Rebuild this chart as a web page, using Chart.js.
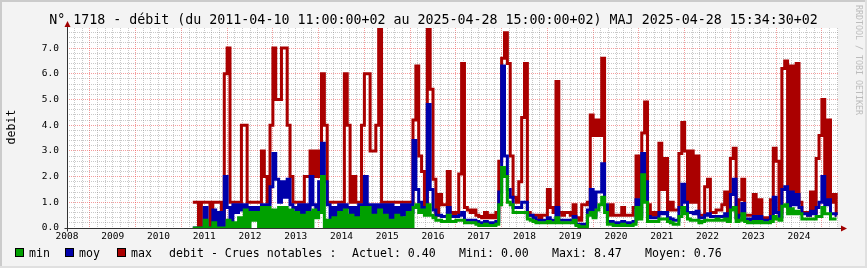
<!DOCTYPE html>
<html>
<head>
<meta charset="utf-8">
<script src="https://cdn.jsdelivr.net/npm/chart.js@4.4.1/dist/chart.umd.min.js"></script>
<style>
  html, body { margin: 0; padding: 0; }
  body { width: 867px; height: 268px; overflow: hidden; background: #f3f3f3; font-family: 'DejaVu Sans Mono', monospace; color: #000; }
  #wrap { position: relative; width: 867px; height: 268px; }
  #wrap canvas { position: absolute; left: 0; top: 0; }
  .txt { position: absolute; white-space: pre; }
  #title { left: 0; width: 867px; text-align: center; top: 12px; font-size: 13.3px; line-height: 16px; }
  #ylabel { left: 10.5px; top: 127px; font-size: 11.6px; line-height: 14px; transform: translate(-50%, -50%) rotate(-90deg); }
  #stamp { left: 858.5px; top: 60px; font-size: 8.3px; line-height: 10px; color: #bcbcbc; transform: translate(-50%, -50%) rotate(90deg); }
  .leg { top: 246px; font-size: 11.6px; line-height: 14px; }
  .box { position: absolute; top: 248px; width: 7px; height: 7px; border: 1px solid #000; }
  .edge { position: absolute; background: #cbcbcb; }
</style>
</head>
<body>
<div id="wrap">
  <canvas id="debitChart" width="867" height="268"></canvas>
  <div class="txt" id="title">N° 1718 - débit (du 2011-04-10 11:00:00+02 au 2025-04-28 15:00:00+02) MAJ 2025-04-28 15:34:30+02</div>
  <div class="txt" id="ylabel">debit</div>
  <div class="txt" id="stamp">RRDTOOL / TOBI OETIKER</div>

  <div class="box" style="left:15px; background:#00a000"></div>
  <div class="txt leg" style="left:29px">min</div>
  <div class="box" style="left:65px; background:#0000aa"></div>
  <div class="txt leg" style="left:79px">moy</div>
  <div class="box" style="left:117px; background:#aa0000"></div>
  <div class="txt leg" style="left:131px">max</div>
  <div class="txt leg" style="left:169px">debit - Crues notables :</div>
  <div class="txt leg" style="left:352px">Actuel: 0.40</div>
  <div class="txt leg" style="left:459px">Mini: 0.00</div>
  <div class="txt leg" style="left:552px">Maxi: 8.47</div>
  <div class="txt leg" style="left:645px">Moyen: 0.76</div>

  <div class="edge" style="left:0; top:0; width:867px; height:2px"></div>
  <div class="edge" style="left:0; top:0; width:2px; height:268px"></div>
  <div class="edge" style="left:865px; top:0; width:2px; height:268px; background:#e0e0e0"></div>
  <div class="edge" style="left:0; top:266px; width:867px; height:2px; background:#e0e0e0"></div>
</div>

<script>
// Echantillons : un point tous les 1/16 d'an depuis le 2011-04-10
const sampleStart = 2011.25;
const sampleStep = 1 / 16;
const periodEnd = 2025.32;

const maxValues = [
    1.0, 1.0, 0, 1.0, 1.0, 1.0, 0, 1.0, 1.0, 1.0,
    0, 6.0, 7.0, 1.0, 1.0, 1.0, 1.0, 4.0, 4.0, 1.0,
    1.0, 1.0, 1.0, 1.0, 3.0, 2.0, 1.0, 4.0, 7.0, 5.0,
    5.0, 7.0, 7.0, 4.0, 2.0, 1.0, 1.0, 1.0, 1.0, 2.0,
    2.0, 3.0, 2.0, 3.0, 2.0, 6.0, 4.0, 1.0, 1.0, 1.0,
    1.0, 1.0, 1.0, 6.0, 4.0, 1.0, 2.0, 1.0, 1.0, 4.0,
    6.0, 6.0, 3.0, 3.0, 4.0, 7.8, 1.0, 1.0, 1.0, 1.0,
    1.0, 1.0, 1.0, 1.0, 1.0, 1.0, 1.0, 4.2, 6.3, 2.8,
    2.2, 0.9, 7.8, 5.4, 1.9, 0.5, 1.3, 0.9, 0.9, 2.2,
    0.6, 0.5, 0.6, 2.1, 6.4, 0.8, 0.7, 0.6, 0.7, 0.5,
    0.45, 0.4, 0.6, 0.4, 0.5, 0.4, 0.6, 2.6, 6.6, 7.6,
    6.4, 2.8, 1.2, 1.0, 1.8, 4.3, 6.4, 0.6, 0.5, 0.5,
    0.5, 0.4, 0.5, 0.5, 1.5, 0.8, 0.6, 5.7, 0.6, 0.5,
    0.6, 0.6, 0.5, 0.9, 0.4, 0.3, 0.9, 0.9, 1.0, 4.4,
    3.6, 4.2, 3.6, 6.6, 0.8, 0.5, 0.9, 0.5, 0.5, 0.5,
    0.8, 0.5, 0.5, 0.5, 0.8, 2.8, 1.2, 3.7, 4.9, 0.9,
    0.5, 0.6, 0.5, 3.3, 1.5, 2.7, 0.7, 1.0, 0.7, 0.7,
    2.9, 4.1, 3.0, 1.0, 3.0, 1.0, 2.8, 0.5, 0.5, 1.6,
    1.9, 0.6, 0.6, 0.7, 0.7, 0.9, 1.4, 0.6, 2.7, 3.1,
    0.4, 1.1, 1.9, 0.5, 0.5, 0.5, 1.3, 0.5, 1.1, 0.4,
    0.4, 0.4, 1.1, 3.1, 2.6, 0.6, 6.2, 6.5, 1.5, 6.3,
    1.0, 6.4, 1.0, 0.6, 0.6, 0.5, 1.4, 0.6, 2.7, 3.6,
    5.0, 1.0, 4.2, 1.0, 1.3, 0.5
];

const moyValues = [
    0, 0, 0, 0, 0.8, 0, 0, 0.7, 0, 0.6,
    0, 2.0, 0.8, 0, 0.9, 0.6, 0.9, 0.7, 0.9, 0.6,
    0.8, 0.5, 0.8, 0.6, 0.9, 0.5, 0.9, 1.6, 2.9, 1.9,
    1.0, 1.8, 1.2, 1.9, 0.9, 0.8, 0.4, 0.9, 0.3, 0.9,
    0.5, 2.0, 0.9, 0.6, 1.8, 3.3, 1.8, 0.9, 0, 0.8,
    0, 0.9, 0.4, 0.9, 0.8, 0, 0.8, 0.4, 0.9, 0.6,
    2.0, 0.9, 0.5, 0.9, 0.5, 0.9, 0.6, 0.9, 0.4, 0.9,
    0, 0.8, 0.3, 0.9, 0.5, 0.9, 0.6, 3.4, 1.5, 1.0,
    0.8, 0.7, 4.8, 1.5, 0.7, 0.5, 0.5, 0.45, 0.45, 0.8,
    0.45, 0.45, 0.45, 0.5, 0.6, 0.3, 0.3, 0.3, 0.3, 0.25,
    0.2, 0.2, 0.25, 0.2, 0.2, 0.2, 0.25, 1.4, 6.3, 2.8,
    1.5, 1.2, 0.8, 0.8, 0.8, 1.0, 1.0, 0.5, 0.5, 0.4,
    0.3, 0.3, 0.3, 0.3, 0.4, 0.3, 0.3, 0.8, 0.3, 0.3,
    0.3, 0.3, 0.3, 0.45, 0.15, 0.1, 0.15, 0.1, 0.7, 1.5,
    0.5, 1.4, 1.4, 2.5, 0.9, 0.25, 0.25, 0.2, 0.2, 0.2,
    0.25, 0.2, 0.2, 0.2, 0.25, 1.1, 0.5, 2.9, 1.8, 0.45,
    0.4, 0.4, 0.4, 0.6, 0.55, 0.6, 0.4, 0.35, 0.3, 0.3,
    0.8, 1.7, 1.0, 0.6, 0.6, 0.55, 0.65, 0.4, 0.4, 0.5,
    0.55, 0.45, 0.45, 0.45, 0.45, 0.45, 0.55, 0.4, 1.3, 1.9,
    0.4, 0.5, 0.95, 0.35, 0.35, 0.3, 0.45, 0.35, 0.45, 0.3,
    0.3, 0.3, 0.45, 1.2, 0.6, 0.45, 1.5, 1.6, 0.8, 1.4,
    0.9, 1.3, 0.8, 0.55, 0.55, 0.5, 0.65, 0.55, 0.8, 1.0,
    2.0, 0.9, 1.1, 0.55, 0.55, 0.5
];

const minValues = [
    0, 0, 0, 0, 0.3, 0, 0, 0.2, 0, 0,
    0, 0, 0.3, 0, 0.2, 0, 0.4, 0, 0.7, 0,
    0.6, 0.3, 0.6, 0, 0.8, 0, 0.8, 0, 0.7, 0,
    0.8, 0, 0.8, 0, 0.7, 0, 0.6, 0, 0.5, 0,
    0.6, 0, 0.7, 0.4, 0.6, 2.0, 0, 0.3, 0, 0.4,
    0, 0.6, 0, 0.7, 0, 0.5, 0, 0.4, 0, 0.8,
    0, 0.8, 0, 0.5, 0, 0.7, 0, 0.5, 0, 0.3,
    0, 0.5, 0, 0.4, 0, 0.6, 0, 0.8, 0.9, 0.6,
    0.7, 0.5, 0.9, 0.5, 0.4, 0.3, 0.3, 0.25, 0.25, 0.5,
    0.25, 0.25, 0.3, 0.3, 0.3, 0.2, 0.2, 0.2, 0.2, 0.15,
    0.1, 0.1, 0.15, 0.1, 0.1, 0.1, 0.15, 0.9, 2.35, 2.0,
    1.0, 0.9, 0.6, 0.6, 0.6, 0.6, 0.6, 0.35, 0.3, 0.25,
    0.2, 0.2, 0.2, 0.2, 0.25, 0.2, 0.2, 0.4, 0.2, 0.2,
    0.2, 0.2, 0.2, 0.3, 0.1, 0.05, 0.05, 0.05, 0.5, 0.6,
    0.4, 0.7, 0.9, 1.2, 0.6, 0.15, 0.15, 0.1, 0.1, 0.1,
    0.15, 0.1, 0.1, 0.1, 0.15, 0.8, 0.35, 2.07, 1.0, 0.25,
    0.25, 0.25, 0.25, 0.35, 0.35, 0.35, 0.25, 0.2, 0.15, 0.15,
    0.45, 0.8, 0.55, 0.35, 0.3, 0.3, 0.3, 0.2, 0.25, 0.3,
    0.3, 0.3, 0.3, 0.35, 0.3, 0.3, 0.35, 0.25, 0.7, 0.8,
    0.25, 0.3, 0.55, 0.25, 0.2, 0.2, 0.25, 0.2, 0.25, 0.2,
    0.2, 0.2, 0.25, 0.45, 0.35, 0.3, 0.85, 0.9, 0.55, 0.75,
    0.55, 0.65, 0.55, 0.35, 0.35, 0.35, 0.35, 0.35, 0.45, 0.45,
    0.8, 0.55, 0.55, 0.35, 0.35, 0.35
];

// Axes
const yearLabels = ['2008', '2009', '2010', '2011', '2012', '2013', '2014', '2015', '2016',
    '2017', '2018', '2019', '2020', '2021', '2022', '2023', '2024'];
const yearBoundaries = [2009, 2010, 2011, 2012, 2013, 2014, 2015, 2016, 2017,
    2018, 2019, 2020, 2021, 2022, 2023, 2024, 2025];
const yTickValues = [0, 1, 2, 3, 4, 5, 6, 7];

const xMin = 2008.5;
const xMax = 2025.352;
const yMax = 7.78;

const colors = { min: '#00a000', moy: '#0000aa', max: '#aa0000' };
const majorGrid = 'rgba(235, 60, 60, 0.5)';
const minorGrid = 'rgba(120, 120, 120, 0.4)';
const tickFont = { family: 'DejaVu Sans Mono', size: 9.5 };

function toPoints(values) {
    const pts = values.map((v, i) => ({ x: sampleStart + i * sampleStep, y: v }));
    pts.push({ x: periodEnd, y: values[values.length - 1] });
    return pts;
}

function lineDataset(label, values, color) {
    return {
        label: label,
        data: toPoints(values),
        borderColor: color,
        backgroundColor: color,
        borderWidth: 3,
        stepped: 'before',
        pointRadius: 0,
        fill: false,
        borderJoinStyle: 'miter',
        borderCapStyle: 'butt'
    };
}

// fond blanc de la zone de tracé
const canvasBack = {
    id: 'canvasBack',
    beforeDraw(chart) {
        const { ctx, chartArea: a } = chart;
        ctx.save();
        ctx.fillStyle = '#ffffff';
        ctx.fillRect(a.left, a.top, a.right - a.left, a.bottom - a.top);
        ctx.restore();
    }
};

// axes avec flèches façon rrdtool
const axisArrows = {
    id: 'axisArrows',
    afterDatasetsDraw(chart) {
        const { ctx, chartArea: a } = chart;
        const x0 = Math.round(a.left) + 0.5;
        const y0 = Math.round(a.bottom) + 0.5;
        ctx.save();
        ctx.strokeStyle = '#333333';
        ctx.lineWidth = 1;
        ctx.beginPath();
        ctx.moveTo(x0, y0 + 3);
        ctx.lineTo(x0, a.top - 3);
        ctx.moveTo(x0 - 3, y0);
        ctx.lineTo(a.right + 3, y0);
        ctx.stroke();
        ctx.fillStyle = '#a00000';
        ctx.beginPath();
        ctx.moveTo(x0, a.top - 7);
        ctx.lineTo(x0 - 3, a.top - 1);
        ctx.lineTo(x0 + 3, a.top - 1);
        ctx.closePath();
        ctx.fill();
        ctx.beginPath();
        ctx.moveTo(a.right + 9, y0);
        ctx.lineTo(a.right + 3, y0 - 3);
        ctx.lineTo(a.right + 3, y0 + 3);
        ctx.closePath();
        ctx.fill();
        ctx.restore();
    }
};

function gridAxis(position, min, max, color, z, buildTicks) {
    return {
        type: 'linear',
        position: position,
        min: min,
        max: max,
        z: z,
        afterBuildTicks: buildTicks,
        afterFit: s => { if (position === 'left') { s.width = 0; } else { s.height = 0; } },
        ticks: { display: false, autoSkip: false },
        grid: { color: color, lineWidth: 1, drawTicks: false, borderDash: [1, 1] },
        border: { display: false, dash: [1, 1] }
    };
}

const chart = new Chart(document.getElementById('debitChart'), {
    type: 'line',
    data: {
        datasets: [
            lineDataset('min', minValues, colors.min),
            lineDataset('moy', moyValues, colors.moy),
            lineDataset('max', maxValues, colors.max)
        ]
    },
    options: {
        responsive: false,
        devicePixelRatio: 1,
        animation: false,
        events: [],
        layout: { padding: { top: 28, right: 29, left: 0, bottom: 0 } },
        plugins: { legend: { display: false }, tooltip: { enabled: false }, title: { display: false } },
        scales: {
            x: {
                type: 'linear',
                position: 'bottom',
                min: xMin,
                max: xMax,
                afterBuildTicks: s => { s.ticks = yearLabels.map(y => ({ value: Number(y) + 0.5 })); },
                afterFit: s => { s.height = 40; },
                ticks: {
                    autoSkip: false,
                    maxRotation: 0,
                    padding: 3,
                    color: '#000',
                    font: tickFont,
                    callback: (v, i) => yearLabels[i]
                },
                grid: { display: false, drawTicks: false },
                border: { display: false }
            },
            xYear: gridAxis('bottom', xMin, xMax, majorGrid, -1,
                s => { s.ticks = yearBoundaries.map(v => ({ value: v })); }),
            xMonth: gridAxis('bottom', xMin, xMax, minorGrid, -2, s => {
                const t = [];
                [2008].concat(yearBoundaries).forEach(y => {
                    for (let m = 1; m < 6; m++) t.push({ value: y + m / 6 });
                });
                s.ticks = t.filter(o => o.value > xMin && o.value < xMax);
            }),
            y: {
                type: 'linear',
                position: 'left',
                min: 0,
                max: yMax,
                afterBuildTicks: s => { s.ticks = yTickValues.map(v => ({ value: v })); },
                afterFit: s => { s.width = 67; },
                ticks: {
                    autoSkip: false,
                    padding: 8,
                    color: '#000',
                    font: tickFont,
                    callback: v => v.toFixed(1)
                },
                grid: { color: majorGrid, lineWidth: 1, drawTicks: false, z: -1, borderDash: [1, 1] },
                border: { display: false, dash: [1, 1] }
            },
            yMinor: gridAxis('left', 0, yMax, minorGrid, -2, s => {
                const t = [];
                yTickValues.forEach(v => {
                    for (let k = 1; k < 5; k++) t.push({ value: v + k / 5 });
                });
                s.ticks = t.filter(o => o.value < yMax);
            })
        }
    },
    plugins: [canvasBack, axisArrows]
});
</script>
</body>
</html>
